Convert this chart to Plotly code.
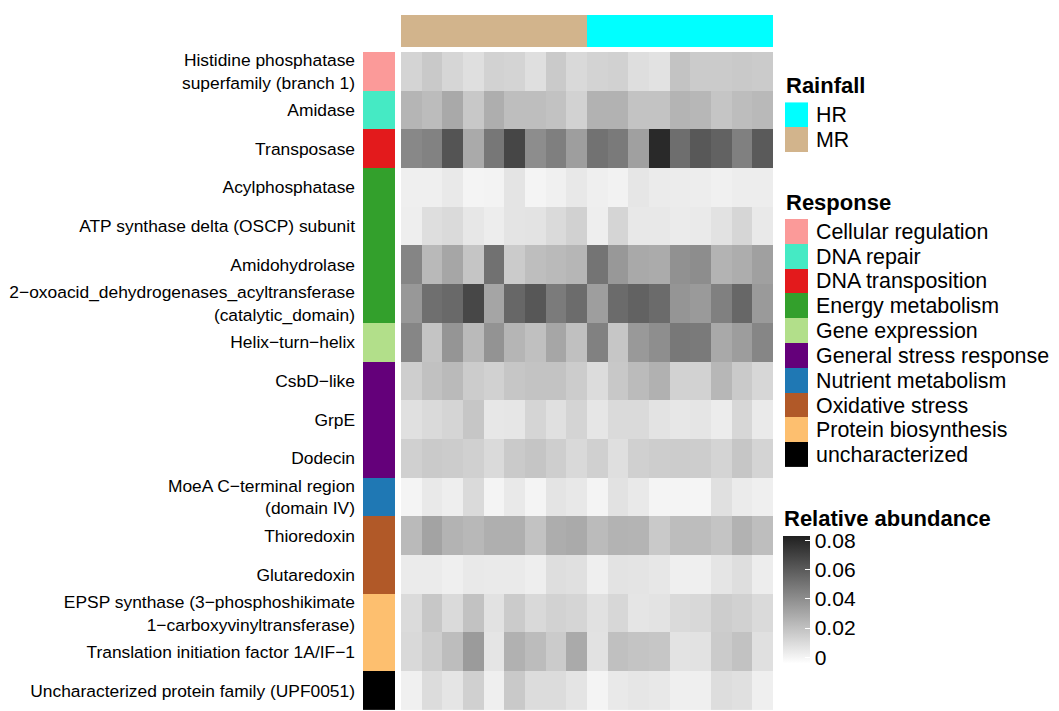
import plotly.graph_objects as go

W, H = 1059, 711
OFF = 8  # default page body margin in the browser
FW, FH = W - OFF, H - OFF
FONT = "Liberation Sans, Arial, Helvetica, sans-serif"

# ---------------- data ----------------
samples = [f"MR{i}" for i in range(1, 10)] + [f"HR{i}" for i in range(1, 10)]
rainfall = ["MR"] * 9 + ["HR"] * 9
rainfall_levels = ["HR", "MR"]
rainfall_colors = ["#00FFFF", "#D2B48C"]

features = [
    "Histidine phosphatase superfamily (branch 1)",
    "Amidase",
    "Transposase",
    "Acylphosphatase",
    "ATP synthase delta (OSCP) subunit",
    "Amidohydrolase",
    "2−oxoacid_dehydrogenases_acyltransferase (catalytic_domain)",
    "Helix−turn−helix",
    "CsbD−like",
    "GrpE",
    "Dodecin",
    "MoeA C−terminal region (domain IV)",
    "Thioredoxin",
    "Glutaredoxin",
    "EPSP synthase (3−phosphoshikimate 1−carboxyvinyltransferase)",
    "Translation initiation factor 1A/IF−1",
    "Uncharacterized protein family (UPF0051)",
]
feature_labels = [
    "Histidine phosphatase<br>superfamily (branch 1)",
    "Amidase",
    "Transposase",
    "Acylphosphatase",
    "ATP synthase delta (OSCP) subunit",
    "Amidohydrolase",
    "2−oxoacid_dehydrogenases_acyltransferase<br>(catalytic_domain)",
    "Helix−turn−helix",
    "CsbD−like",
    "GrpE",
    "Dodecin",
    "MoeA C−terminal region<br>(domain IV)",
    "Thioredoxin",
    "Glutaredoxin",
    "EPSP synthase (3−phosphoshikimate<br>1−carboxyvinyltransferase)",
    "Translation initiation factor 1A/IF−1",
    "Uncharacterized protein family (UPF0051)",
]
response = [
    "Cellular regulation", "DNA repair", "DNA transposition",
    "Energy metabolism", "Energy metabolism", "Energy metabolism", "Energy metabolism",
    "Gene expression",
    "General stress response", "General stress response", "General stress response",
    "Nutrient metabolism",
    "Oxidative stress", "Oxidative stress",
    "Protein biosynthesis", "Protein biosynthesis",
    "uncharacterized",
]
response_levels = [
    "Cellular regulation", "DNA repair", "DNA transposition", "Energy metabolism",
    "Gene expression", "General stress response", "Nutrient metabolism",
    "Oxidative stress", "Protein biosynthesis", "uncharacterized",
]
response_colors = [
    "#FB9A99", "#45EAC4", "#E31A1C", "#33A02C", "#B2DF8A",
    "#64007A", "#1F78B4", "#B15928", "#FDBF6F", "#000000",
]

# relative abundance, rows = features, columns = samples (MR1..MR9, HR1..HR9)
abundance = [
    [0.0129, 0.0172, 0.0121, 0.0086, 0.0137, 0.0129, 0.0086, 0.0168, 0.0110,
     0.0133, 0.0141, 0.0090, 0.0074, 0.0196, 0.0164, 0.0164, 0.0172, 0.0164],
    [0.0251, 0.0223, 0.0298, 0.0176, 0.0278, 0.0215, 0.0215, 0.0200, 0.0137,
     0.0262, 0.0262, 0.0196, 0.0196, 0.0254, 0.0243, 0.0188, 0.0219, 0.0235],
    [0.0427, 0.0450, 0.0630, 0.0294, 0.0493, 0.0685, 0.0407, 0.0462, 0.0341,
     0.0513, 0.0482, 0.0333, 0.0800, 0.0529, 0.0615, 0.0576, 0.0458, 0.0607],
    [0.0023, 0.0023, 0.0047, 0.0003, 0.0008, 0.0067, 0.0002, 0.0020, 0.0051,
     0.0023, 0.0012, 0.0059, 0.0039, 0.0035, 0.0031, 0.0020, 0.0031, 0.0031],
    [0.0027, 0.0090, 0.0106, 0.0055, 0.0031, 0.0067, 0.0070, 0.0106, 0.0141,
     0.0027, 0.0125, 0.0051, 0.0051, 0.0039, 0.0043, 0.0074, 0.0121, 0.0047],
    [0.0438, 0.0235, 0.0309, 0.0188, 0.0517, 0.0164, 0.0215, 0.0231, 0.0247,
     0.0505, 0.0364, 0.0298, 0.0290, 0.0392, 0.0407, 0.0258, 0.0282, 0.0333],
    [0.0364, 0.0525, 0.0548, 0.0681, 0.0313, 0.0556, 0.0619, 0.0478, 0.0536,
     0.0341, 0.0540, 0.0576, 0.0540, 0.0376, 0.0356, 0.0458, 0.0556, 0.0356],
    [0.0435, 0.0192, 0.0376, 0.0231, 0.0384, 0.0251, 0.0207, 0.0309, 0.0207,
     0.0454, 0.0184, 0.0360, 0.0403, 0.0489, 0.0482, 0.0298, 0.0345, 0.0435],
    [0.0153, 0.0204, 0.0231, 0.0161, 0.0141, 0.0184, 0.0196, 0.0196, 0.0161,
     0.0098, 0.0176, 0.0227, 0.0266, 0.0137, 0.0137, 0.0243, 0.0168, 0.0117],
    [0.0082, 0.0106, 0.0125, 0.0184, 0.0055, 0.0059, 0.0125, 0.0082, 0.0129,
     0.0059, 0.0106, 0.0106, 0.0070, 0.0055, 0.0063, 0.0035, 0.0117, 0.0043],
    [0.0145, 0.0168, 0.0161, 0.0145, 0.0106, 0.0168, 0.0188, 0.0153, 0.0110,
     0.0145, 0.0086, 0.0145, 0.0157, 0.0161, 0.0157, 0.0129, 0.0184, 0.0129],
    [0.0002, 0.0047, 0.0027, 0.0106, 0.0002, 0.0047, 0.0004, 0.0067, 0.0051,
     0.0003, 0.0074, 0.0047, 0.0004, 0.0003, 0.0001, 0.0082, 0.0039, 0.0023],
    [0.0231, 0.0321, 0.0258, 0.0239, 0.0274, 0.0274, 0.0200, 0.0282, 0.0294,
     0.0227, 0.0258, 0.0254, 0.0172, 0.0219, 0.0219, 0.0192, 0.0262, 0.0215],
    [0.0039, 0.0039, 0.0023, 0.0047, 0.0043, 0.0043, 0.0027, 0.0090, 0.0082,
     0.0023, 0.0070, 0.0067, 0.0055, 0.0023, 0.0023, 0.0063, 0.0090, 0.0031],
    [0.0102, 0.0180, 0.0106, 0.0200, 0.0074, 0.0164, 0.0110, 0.0137, 0.0125,
     0.0078, 0.0117, 0.0063, 0.0070, 0.0106, 0.0114, 0.0157, 0.0141, 0.0106],
    [0.0110, 0.0157, 0.0219, 0.0352, 0.0063, 0.0266, 0.0223, 0.0164, 0.0294,
     0.0074, 0.0207, 0.0192, 0.0184, 0.0070, 0.0074, 0.0164, 0.0200, 0.0082],
    [0.0020, 0.0098, 0.0063, 0.0145, 0.0023, 0.0172, 0.0098, 0.0098, 0.0067,
     0.0004, 0.0047, 0.0059, 0.0051, 0.0023, 0.0023, 0.0094, 0.0082, 0.0023],
]

cbar_ticks = [0, 0.02, 0.04, 0.06, 0.08]
cbar_ticktext = ["0", "0.02", "0.04", "0.06", "0.08"]
z_lo, z_hi = -0.0036, 0.0834


def discrete_scale(colors):
    n = len(colors)
    sc = []
    for i, c in enumerate(colors):
        sc.append([i / n, c])
        sc.append([(i + 1) / n, c])
    return sc


def px_x(p):
    return (p - OFF) / FW


def px_y(p):
    return 1 - (p - OFF) / FH


fig = go.Figure()

# main heatmap
fig.add_trace(go.Heatmap(
    z=abundance, x=samples, y=features, xaxis="x", yaxis="y",
    zmin=z_lo, zmax=z_hi,
    colorscale=[[0, "rgb(254,254,254)"], [1, "rgb(32,32,32)"]],
    colorbar=dict(
        x=px_x(783), xanchor="left", xpad=0,
        y=px_y(535), yanchor="top", ypad=0,
        len=127, lenmode="pixels", thickness=27, thicknessmode="pixels",
        outlinewidth=0,
        tickvals=cbar_ticks, ticktext=cbar_ticktext,
        ticks="inside", ticklen=5, tickcolor="white", tickwidth=1.2,
        tickfont=dict(family=FONT, size=21, color="#000"),
    ),
    hovertemplate="%{y}<br>%{x}: %{z}<extra></extra>",
))

# row annotation (Response)
resp_idx = [[response_levels.index(r)] for r in response]
fig.add_trace(go.Heatmap(
    z=resp_idx, x=["Response"], y=features, xaxis="x2", yaxis="y",
    zmin=-0.5, zmax=len(response_levels) - 0.5,
    colorscale=discrete_scale(response_colors), showscale=False,
    customdata=[[r] for r in response],
    hovertemplate="%{y}<br>%{customdata}<extra></extra>",
))

# column annotation (Rainfall)
rain_idx = [[rainfall_levels.index(r) for r in rainfall]]
fig.add_trace(go.Heatmap(
    z=rain_idx, x=samples, y=["Rainfall"], xaxis="x", yaxis="y2",
    zmin=-0.5, zmax=len(rainfall_levels) - 0.5,
    colorscale=discrete_scale(rainfall_colors), showscale=False,
    customdata=[rainfall],
    hovertemplate="%{x}: %{customdata}<extra></extra>",
))

# legend swatches: Rainfall
fig.add_trace(go.Heatmap(
    z=[[i] for i in range(len(rainfall_levels))], x=[0], y=rainfall_levels,
    xaxis="x3", yaxis="y3",
    zmin=-0.5, zmax=len(rainfall_levels) - 0.5,
    colorscale=discrete_scale(rainfall_colors), showscale=False, hoverinfo="skip",
))

# legend swatches: Response
fig.add_trace(go.Heatmap(
    z=[[i] for i in range(len(response_levels))], x=[0], y=response_levels,
    xaxis="x4", yaxis="y4",
    zmin=-0.5, zmax=len(response_levels) - 0.5,
    colorscale=discrete_scale(response_colors), showscale=False, hoverinfo="skip",
))

hidden = dict(showticklabels=False, showgrid=False, zeroline=False, ticks="",
              showline=False)
legend_axis = dict(side="right", ticks="", ticklabelstandoff=7, tickmode="array",
                   autorange="reversed", categoryorder="array",
                   tickfont=dict(family=FONT, size=21.4, color="#000"),
                   showgrid=False, zeroline=False, showline=False)

fig.update_layout(
    width=FW, height=FH,
    margin=dict(l=0, r=0, t=0, b=0),
    paper_bgcolor="white", plot_bgcolor="white",
    font=dict(family=FONT, color="#000"),
    showlegend=False,
    xaxis=dict(domain=[px_x(401), px_x(773)], anchor="y", **hidden),
    xaxis2=dict(domain=[px_x(363), px_x(395)], anchor="y", **hidden),
    yaxis=dict(domain=[px_y(710), px_y(50)], anchor="x2",
               categoryorder="array", categoryarray=features,
               autorange="reversed",
               tickmode="array", tickvals=features, ticktext=feature_labels,
               ticks="", ticklabelstandoff=7,
               tickfont=dict(family=FONT, size=17.4, color="#000"),
               showgrid=False, zeroline=False, showline=False),
    yaxis2=dict(domain=[px_y(45), px_y(13)], anchor="x", **hidden),
    xaxis3=dict(domain=[px_x(785), px_x(808)], anchor="y3", **hidden),
    yaxis3=dict(domain=[px_y(150.5), px_y(100.5)], anchor="x3",
                categoryarray=rainfall_levels, tickvals=rainfall_levels,
                **legend_axis),
    xaxis4=dict(domain=[px_x(785), px_x(808)], anchor="y4", **hidden),
    yaxis4=dict(domain=[px_y(466.5), px_y(217.5)], anchor="x4",
                categoryarray=response_levels, tickvals=response_levels,
                **legend_axis),
    annotations=[
        dict(text="<b>Rainfall</b>", xref="paper", yref="paper",
             x=px_x(784), y=px_y(84), xanchor="left", yanchor="middle",
             showarrow=False, font=dict(family=FONT, size=22, color="#000")),
        dict(text="<b>Response</b>", xref="paper", yref="paper",
             x=px_x(784), y=px_y(201), xanchor="left", yanchor="middle",
             showarrow=False, font=dict(family=FONT, size=22, color="#000")),
        dict(text="<b>Relative abundance</b>", xref="paper", yref="paper",
             x=px_x(782), y=px_y(518), xanchor="left", yanchor="middle",
             showarrow=False, font=dict(family=FONT, size=22, color="#000")),
    ],
)

fig.write_html("out.html")
